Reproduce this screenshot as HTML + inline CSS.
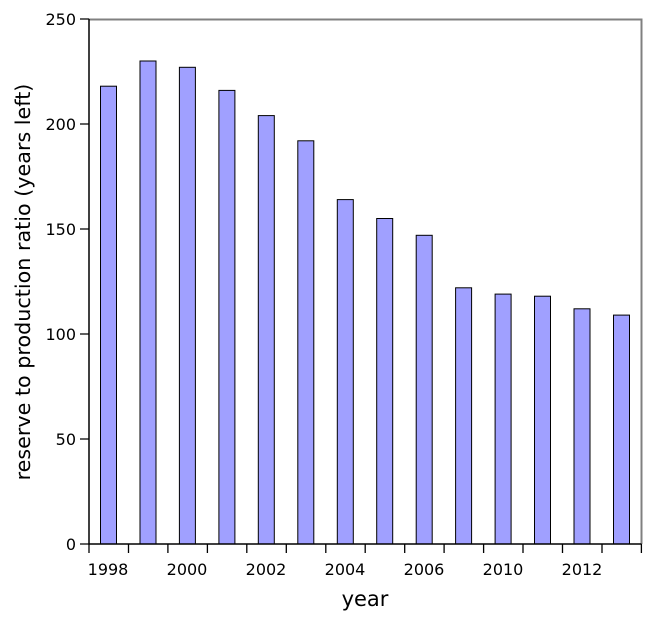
<!DOCTYPE html>
<html><head><style>body{margin:0;background:#fff}svg{display:block}</style></head>
<body>
<svg width="650" height="623" viewBox="0 0 650 623" xmlns="http://www.w3.org/2000/svg" font-family="DejaVu Sans, sans-serif">
<rect width="650" height="623" fill="#fff"/>
<g fill="#a0a0ff" stroke="#000" stroke-width="1">
<rect x="100.5" y="86.2" width="16" height="457.8"/>
<rect x="140" y="61" width="16" height="483"/>
<rect x="179.4" y="67.3" width="16" height="476.7"/>
<rect x="218.9" y="90.4" width="16" height="453.6"/>
<rect x="258.3" y="115.6" width="16" height="428.4"/>
<rect x="297.8" y="140.8" width="16" height="403.2"/>
<rect x="337.3" y="199.6" width="16" height="344.4"/>
<rect x="376.7" y="218.5" width="16" height="325.5"/>
<rect x="416.2" y="235.3" width="16" height="308.7"/>
<rect x="455.6" y="287.8" width="16" height="256.2"/>
<rect x="495.1" y="294.1" width="16" height="249.9"/>
<rect x="534.5" y="296.2" width="16" height="247.8"/>
<rect x="574" y="308.8" width="16" height="235.2"/>
<rect x="613.5" y="315.1" width="16" height="228.9"/>
</g>
<path d="M89 19.5H641.5V544" fill="none" stroke="#808080" stroke-width="2"/>
<path d="M89 19V544H641.5" fill="none" stroke="#000" stroke-width="1.5"/>
<g stroke="#000" stroke-width="1.3">
<path d="M80 544H89M80 439H89M80 334H89M80 229H89M80 124H89M80 19H89"/>
<path d="M89 544V553M128.5 544V553M167.9 544V553M207.4 544V553M246.8 544V553M286.3 544V553M325.8 544V553M365.2 544V553M404.7 544V553M444.1 544V553M483.6 544V553M523 544V553M562.5 544V553M602 544V553M641.4 544V553"/>
</g>
<g font-size="16" text-anchor="end" fill="#000">
<text x="76" y="550">0</text><text x="76" y="445">50</text><text x="76" y="340">100</text>
<text x="76" y="235">150</text><text x="76" y="130">200</text><text x="76" y="25">250</text>
</g>
<g font-size="16" text-anchor="middle" fill="#000">
<text x="108" y="575">1998</text><text x="187" y="575">2000</text><text x="266" y="575">2002</text>
<text x="345" y="575">2004</text><text x="424" y="575">2006</text><text x="503" y="575">2010</text><text x="582" y="575">2012</text>
</g>
<text x="365" y="606" font-size="21" text-anchor="middle">year</text>
<text transform="translate(30,282) rotate(-90)" font-size="20.7" text-anchor="middle">reserve to production ratio (years left)</text>
</svg>
</body></html>
